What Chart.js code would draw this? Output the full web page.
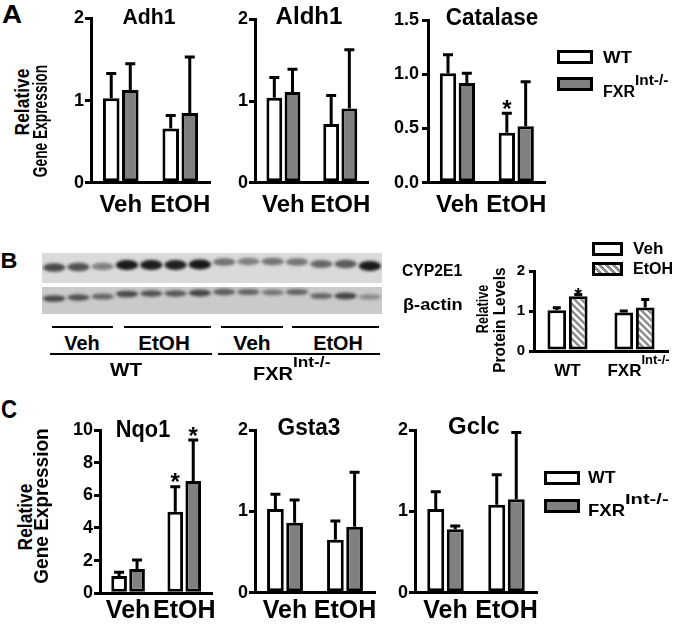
<!DOCTYPE html>
<html>
<head>
<meta charset="utf-8">
<script src="https://cdn.jsdelivr.net/npm/chart.js@4.4.0/dist/chart.umd.min.js"></script>
<style>
  body { margin: 0; width: 685px; height: 625px; overflow: hidden; position: relative; background: #fff;
         font-family: "Liberation Sans", Arial, sans-serif; font-weight: bold; color: #000; }
  canvas { position: absolute; }
  .t { position: absolute; white-space: nowrap; line-height: 1; }
  .box { position: absolute; border: 3px solid #000; box-sizing: border-box; }
  .rule { position: absolute; background: #000; height: 2px; }
</style>
</head>
<body>
<script>
// ---- data ----
const groupLabels = ['Veh', 'EtOH'];
const geneTicks = [0, 1, 2];
const catalaseTicks = [0, 0.5, 1, 1.5];
const nqo1Ticks = [0, 2, 4, 6, 8, 10];

// panel A
const adh1WT = [1.03, 0.66], adh1WTsem = [0.30, 0.16];
const adh1KO = [1.13, 0.85], adh1KOsem = [0.32, 0.68];
const aldh1WT = [1.04, 0.72], aldh1WTsem = [0.25, 0.35];
const aldh1KO = [1.11, 0.91], aldh1KOsem = [0.28, 0.72];
const catWT = [1.01, 0.46], catWTsem = [0.17, 0.18], catWTstar = [false, true];
const catKO = [0.92, 0.52], catKOsem = [0.09, 0.41];

// panel B (CYP2E1 / beta-actin densitometry)
const proteinGroups = ['WT', 'FXR'];
const proteinSup = ['', 'Int-/-'];
const proteinTicks = [0, 1, 2];
const cypVeh = [1.02, 0.96], cypVehSem = [0.06, 0.04];
const cypEtOH = [1.37, 1.09], cypEtOHSem = [0.04, 0.20], cypEtOHstar = [true, false];
// blot band darkness per lane (3 Veh, 4 EtOH, 3 Veh, 4 EtOH)
const cypBands   = [0.72, 0.68, 0.45, 0.97, 0.95, 0.93, 0.98, 0.52, 0.45, 0.5, 0.5, 0.58, 0.64, 0.96];
const actinBands = [0.70, 0.66, 0.55, 0.70, 0.66, 0.62, 0.72, 0.60, 0.56, 0.46, 0.56, 0.55, 0.72, 0.35];
const cypSmile   = [14.5, 14, 13.5, 12, 12, 12, 11.5, 9, 8.5, 8.5, 9, 11, 11, 13];
const actinSmile = [11.5, 10.5, 9.5, 7, 6.5, 6.5, 6, 5, 5, 5.5, 5, 9, 9, 10];

// panel C
const nqo1WT = [1.06, 5.0], nqo1WTsem = [0.23, 1.53], nqo1WTstar = [false, true];
const nqo1KO = [1.49, 6.88], nqo1KOsem = [0.55, 2.51], nqo1KOstar = [false, true];
const gsta3WT = [1.03, 0.65], gsta3WTsem = [0.18, 0.23];
const gsta3KO = [0.86, 0.81], gsta3KOsem = [0.28, 0.67];
const gclcWT = [1.03, 1.08], gclcWTsem = [0.21, 0.37];
const gclcKO = [0.78, 1.15], gclcKOsem = [0.04, 0.82];

const WHITE = '#ffffff', GREY = '#808080';
const FAMILY = '"Liberation Sans", Arial';

// ---- helpers ----
function put(html, x, cy, size, w, mode) {
    const el = document.createElement('div');
    el.className = 't';
    el.innerHTML = html;
    el.style.fontSize = size + 'px';
    el.style.left = x + 'px';
    el.style.top = cy + 'px';
    document.body.appendChild(el);
    const k = w ? w / el.offsetWidth : 1;
    if (mode === 'l') {
        el.style.transformOrigin = '0 50%';
        el.style.transform = `translateY(-50%) scaleX(${k})`;
    } else if (mode === 'r') {
        el.style.transform = `translate(-50%,-50%) rotate(-90deg) scaleX(${k})`;
    } else {
        el.style.transform = `translate(-50%,-50%) scaleX(${k})`;
    }
}

function box(x, y, w, h, bg) {
    const el = document.createElement('div');
    el.className = 'box';
    Object.assign(el.style, { left: x + 'px', top: y + 'px', width: w + 'px', height: h + 'px', background: bg });
    document.body.appendChild(el);
}

function rule(x1, x2, y) {
    const el = document.createElement('div');
    el.className = 'rule';
    Object.assign(el.style, { left: x1 + 'px', top: y + 'px', width: (x2 - x1) + 'px' });
    document.body.appendChild(el);
}

function hatch() {
    const s = 7, c = document.createElement('canvas');
    c.width = c.height = s;
    const g = c.getContext('2d');
    g.fillStyle = '#fff';
    g.fillRect(0, 0, s, s);
    g.strokeStyle = '#8e8e8e';
    g.lineWidth = 2.6;
    g.beginPath();
    [-s, 0, s].forEach(k => { g.moveTo(-1, k - 1); g.lineTo(s + 1, s + k + 1); });
    g.stroke();
    return document.createElement('canvas').getContext('2d').createPattern(c, 'repeat');
}

// error bars (upper only) + significance stars
const errPlugin = {
    id: 'errbars',
    afterDatasetsDraw(chart, args, opts) {
        const ctx = chart.ctx, y = chart.scales.y;
        chart.data.datasets.forEach((ds, i) => {
            chart.getDatasetMeta(i).data.forEach((bar, j) => {
                const top = y.getPixelForValue(ds.data[j] + ds.sem[j]);
                ctx.save();
                ctx.strokeStyle = '#000';
                ctx.lineWidth = 3;
                ctx.beginPath();
                ctx.moveTo(bar.x, bar.y);
                ctx.lineTo(bar.x, top);
                ctx.moveTo(bar.x - opts.cap, top);
                ctx.lineTo(bar.x + opts.cap, top);
                ctx.stroke();
                if (ds.stars && ds.stars[j]) {
                    ctx.fillStyle = '#000';
                    ctx.font = `bold ${opts.starSize}px ${FAMILY}`;
                    ctx.textAlign = 'center';
                    ctx.textBaseline = 'alphabetic';
                    ctx.fillText('*', bar.x, top - opts.starLift + 0.575 * opts.starSize);
                }
                ctx.restore();
            });
        });
    }
};

// x labels with superscripts (panel B)
const supLabelPlugin = {
    id: 'suplabels',
    afterDraw(chart, args, opts) {
        const ctx = chart.ctx, x = chart.scales.x;
        const yMid = chart.chartArea.bottom + opts.dy;
        ctx.save();
        ctx.fillStyle = '#000';
        ctx.textBaseline = 'middle';
        ctx.textAlign = 'left';
        chart.data.labels.forEach((lab, i) => {
            const main = `bold ${opts.size}px ${FAMILY}`;
            const sup = `bold ${opts.supSize}px ${FAMILY}`;
            ctx.font = main;
            const w1 = ctx.measureText(lab).width;
            ctx.font = sup;
            const w2 = opts.sup[i] ? ctx.measureText(opts.sup[i]).width : 0;
            const x0 = x.getPixelForTick(i) - (w1 + w2) / 2 + (opts.shift[i] || 0);
            ctx.font = main;
            ctx.fillText(lab, x0, yMid);
            if (w2) {
                ctx.font = sup;
                ctx.fillText(opts.sup[i], x0 + w1, yMid - opts.raise);
            }
        });
        ctx.restore();
    }
};

function barChart(c) {
    const cv = document.createElement('canvas');
    cv.width = c.w;
    cv.height = c.h;
    cv.style.left = c.left + 'px';
    cv.style.top = c.top + 'px';
    document.body.appendChild(cv);
    const font = { family: FAMILY, weight: 'bold', size: c.tickSize };
    return new Chart(cv, {
        type: 'bar',
        data: {
            labels: c.labels,
            datasets: c.series.map(s => ({
                data: s.values, sem: s.sem, stars: s.stars,
                backgroundColor: s.fill, borderColor: '#000', borderWidth: 3, borderSkipped: false,
                categoryPercentage: 0.64, barPercentage: 0.87
            }))
        },
        options: {
            responsive: false, animation: false, devicePixelRatio: 1,
            layout: { padding: { left: 0, top: c.yTop - c.top, right: c.left + c.w - c.x1, bottom: 0 } },
            plugins: {
                legend: { display: false }, tooltip: { enabled: false },
                errbars: { cap: c.cap || 5, starSize: c.starSize || 24, starLift: c.starLift || 10 },
                suplabels: c.supLabels || {}
            },
            scales: {
                x: {
                    grid: { display: false, drawTicks: false },
                    border: { display: true, color: '#000', width: 3 },
                    ticks: { display: !c.supLabels, color: '#000', padding: c.xPad,
                             autoSkip: false, maxRotation: 0, minRotation: 0,
                             font: { family: FAMILY, weight: 'bold', size: c.xSize } },
                    afterFit: s => { s.height = c.top + c.h - c.y0; }
                },
                y: {
                    min: c.ticks[0], max: c.ticks[c.ticks.length - 1],
                    afterBuildTicks: s => { s.ticks = c.ticks.map(v => ({ value: v })); },
                    ticks: { color: '#000', font, padding: c.tickPad, callback: c.fmt || (v => v) },
                    grid: { drawOnChartArea: false, drawTicks: true, tickLength: c.tickLen, color: '#000', lineWidth: 3 },
                    border: { display: true, color: '#000', width: 3 },
                    afterFit: s => { s.width = c.x0 - c.left; }
                }
            }
        },
        plugins: c.supLabels ? [errPlugin, supLabelPlugin] : [errPlugin]
    });
}

// ---- panel A ----
const aCommon = { top: 5, h: 220, y0: 182.7, labels: groupLabels, tickSize: 18, tickPad: 1, tickLen: 6, xSize: 24, xPad: 8 };
barChart({ ...aCommon, left: 50, w: 170, x0: 91, x1: 213, yTop: 18.5, ticks: geneTicks,
    series: [{ values: adh1WT, sem: adh1WTsem, fill: WHITE }, { values: adh1KO, sem: adh1KOsem, fill: GREY }] });
barChart({ ...aCommon, left: 215, w: 165, x0: 255, x1: 373, yTop: 19.5, ticks: geneTicks,
    series: [{ values: aldh1WT, sem: aldh1WTsem, fill: WHITE }, { values: aldh1KO, sem: aldh1KOsem, fill: GREY }] });
barChart({ ...aCommon, left: 385, w: 170, x0: 428, x1: 552, yTop: 20, ticks: catalaseTicks, tickPad: 3,
    fmt: v => v.toFixed(1),
    series: [{ values: catWT, sem: catWTsem, stars: catWTstar, fill: WHITE }, { values: catKO, sem: catKOsem, fill: GREY }] });

// ---- panel B: blot ----
const blotRows = [
    { from: 0, to: 30, bg: '#dadada', level: cypBands, smile: cypSmile, thick: 4.6 },
    { from: 34, to: 61, bg: '#cacaca', level: actinBands, smile: actinSmile, thick: 3.6 }
];
const blotPlugin = {
    id: 'blot',
    beforeDatasetsDraw(chart) {
        const { ctx, scales: { x, y } } = chart;
        blotRows.forEach(row => {
            const top = y.getPixelForValue(row.from), bot = y.getPixelForValue(row.to);
            ctx.fillStyle = row.bg;
            ctx.fillRect(x.left, top, x.width, bot - top);
            row.level.forEach((a, i) => {
                const cx = x.getPixelForValue(i + 0.5);
                const cy = y.getPixelForValue(row.from + row.smile[i]);
                ctx.save();
                ctx.filter = 'blur(1.5px)';
                ctx.fillStyle = `rgba(18,18,18,${a})`;
                ctx.beginPath();
                ctx.ellipse(cx, cy, 11.2, row.thick * (0.55 + 0.55 * a), 0, 0, Math.PI * 2);
                ctx.fill();
                ctx.restore();
            });
        });
    }
};
(function () {
    const cv = document.createElement('canvas');
    cv.width = 340; cv.height = 61;
    cv.style.left = '42px'; cv.style.top = '253px';
    document.body.appendChild(cv);
    new Chart(cv, {
        type: 'scatter',
        data: { datasets: [{ data: [] }] },
        options: {
            responsive: false, animation: false, devicePixelRatio: 1,
            layout: { padding: 0 },
            plugins: { legend: { display: false }, tooltip: { enabled: false } },
            scales: { x: { type: 'linear', min: 0, max: cypBands.length, display: false },
                      y: { min: 0, max: 61, reverse: true, display: false } }
        },
        plugins: [blotPlugin]
    });
})();

// ---- panel B: densitometry ----
barChart({ left: 490, top: 257, w: 185, h: 125, x0: 534, x1: 668, yTop: 271, y0: 351,
    labels: proteinGroups, ticks: proteinTicks, tickSize: 15, tickPad: 4, tickLen: 5, xSize: 17, xPad: 4,
    cap: 4, starSize: 19, starLift: 5,
    supLabels: { size: 17, supSize: 13, sup: proteinSup, dy: 20, raise: 11, shift: [0, 4] },
    series: [{ values: cypVeh, sem: cypVehSem, fill: WHITE },
             { values: cypEtOH, sem: cypEtOHSem, stars: cypEtOHstar, fill: hatch() }] });

// ---- panel C ----
const cCommon = { top: 415, h: 210, labels: groupLabels, tickSize: 18, tickPad: 1, tickLen: 6, xSize: 25, xPad: 3 };
barChart({ ...cCommon, left: 45, w: 175, x0: 100, x1: 214, yTop: 430, y0: 593.3, ticks: nqo1Ticks,
    series: [{ values: nqo1WT, sem: nqo1WTsem, stars: nqo1WTstar, fill: WHITE },
             { values: nqo1KO, sem: nqo1KOsem, stars: nqo1KOstar, fill: GREY }] });
barChart({ ...cCommon, left: 215, w: 165, x0: 255, x1: 377, yTop: 430, y0: 592.7, ticks: geneTicks,
    series: [{ values: gsta3WT, sem: gsta3WTsem, fill: WHITE }, { values: gsta3KO, sem: gsta3KOsem, fill: GREY }] });
barChart({ ...cCommon, left: 375, w: 170, x0: 415, x1: 537, yTop: 430, y0: 592.7, ticks: geneTicks,
    series: [{ values: gclcWT, sem: gclcWTsem, fill: WHITE }, { values: gclcKO, sem: gclcKOsem, fill: GREY }] });

// ---- text, legends, blot annotation ----
put('A', 12, 13.5, 25, 20);
put('B', 9, 260.5, 22, 17);
put('C', 8.5, 409, 25, 16);

put('Adh1', 148.5, 17, 22, 53);
put('Aldh1', 308.5, 15.5, 23, 67);
put('Catalase', 491.5, 16.5, 23, 93);
put('Nqo1', 142.5, 429, 23, 55);
put('Gsta3', 308.5, 427, 23, 63);
put('Gclc', 474, 426, 23, 52);

put('Relative', 22, 101.5, 20, 67, 'r');
put('Gene Expression', 40, 121, 20, 112, 'r');
put('Relative', 25, 517, 20, 67, 'r');
put('Gene Expression', 40.5, 506, 20, 155, 'r');
put('Relative', 483, 309, 16, 48, 'r');
put('Protein Levels', 499.5, 320, 16, 105, 'r');

// genotype legends (A and C)
box(557, 50, 36, 14, WHITE);
box(557, 77, 36, 14, GREY);
put('WT', 603, 58, 16, 29, 'l');
put('FXR', 603, 91.5, 16, 32, 'l');
put('Int-/-', 635, 79.5, 14, 33, 'l');
box(544, 471, 36, 14, WHITE);
box(544, 499, 36, 14, GREY);
put('WT', 588, 477, 17, 27, 'l');
put('FXR', 588, 510, 17, 37, 'l');
put('Int-/-', 625, 497.5, 15, 43, 'l');

// treatment legend (B)
box(592, 242, 31, 14, WHITE);
box(592, 262, 31, 14, 'repeating-linear-gradient(45deg, #fff 0 2.4px, #8e8e8e 2.4px 5px)');
put('Veh', 633, 249, 16, 30, 'l');
put('EtOH', 633, 269, 16, 40, 'l');

// blot annotation
put('CYP2E1', 402, 270, 17, 60, 'l');
put('β-actin', 403, 303.5, 17, 60, 'l');
rule(52, 113, 326); rule(124, 211, 326); rule(221, 283, 326); rule(292, 379, 326);
put('Veh', 82, 342, 21, 35);
put('EtOH', 164, 342, 21, 52);
put('Veh', 252, 342, 21, 37);
put('EtOH', 338, 342, 21, 50);
rule(50, 212, 353); rule(218, 380, 353);
put('WT', 126, 370, 18, 32);
put('FXR', 253, 373.5, 18, 40, 'l');
put('Int-/-', 293, 362, 14, 37, 'l');
</script>
</body>
</html>
